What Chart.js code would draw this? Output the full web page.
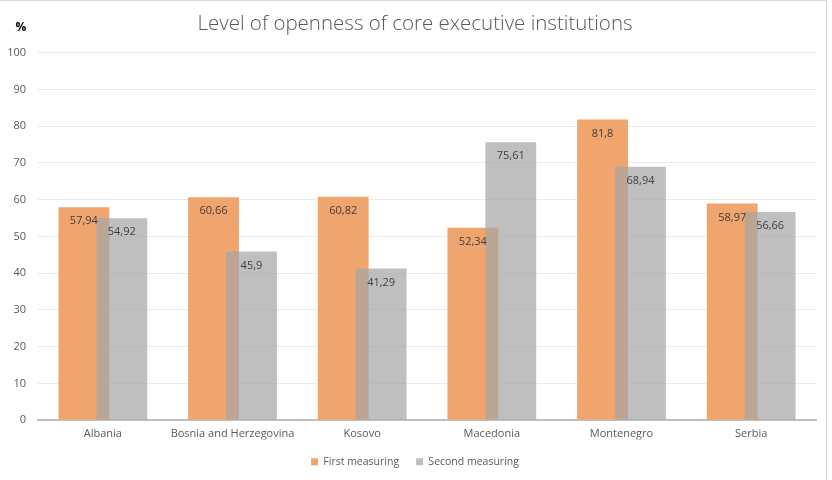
<!DOCTYPE html>
<html>
<head>
<meta charset="utf-8">
<script src="https://cdn.jsdelivr.net/npm/chart.js@4.4.1/dist/chart.umd.min.js"></script>
<style>
    html, body { margin: 0; padding: 0; background: #fff; }
    #wrap { width: 832px; height: 480px; }
</style>
</head>
<body>
<div id="wrap"><canvas id="barChart"></canvas></div>
<script>
const categories = ['Albania', 'Bosnia and Herzegovina', 'Kosovo', 'Macedonia', 'Montenegro', 'Serbia'];
const firstMeasuring = [57.94, 60.66, 60.82, 52.34, 81.8, 58.97];
const secondMeasuring = [54.92, 45.9, 41.29, 75.61, 68.94, 56.66];
const yMin = 0, yMax = 100, yStep = 10;

const fontFamily = '"Open Sans", sans-serif';

// grey bars sit on top of the orange ones (Excel overlap), then value labels and the "%" unit
const overlapAndLabels = {
    id: 'overlapAndLabels',
    beforeDraw(chart) {
        let ctx = chart.ctx;
        ctx.save();
        ctx.strokeStyle = '#d9d9d9';
        ctx.lineWidth = 1;
        ctx.beginPath();
        ctx.moveTo(0, 0.5);
        ctx.lineTo(826.5, 0.5);
        ctx.lineTo(826.5, 480);
        ctx.stroke();
        ctx.restore();
    },
    beforeDatasetDraw(chart, args) {
        if (args.index === 1) return false;
    },
    afterDatasetsDraw(chart) {
        chart.getDatasetMeta(1).controller.draw();

        let ctx = chart.ctx;
        ctx.save();
        ctx.font = '11px ' + fontFamily;
        ctx.fillStyle = '#404040';
        ctx.textAlign = 'center';
        ctx.textBaseline = 'middle';
        chart.data.datasets.forEach((ds, i) => {
            chart.getDatasetMeta(i).data.forEach((bar, j) => {
                ctx.fillText(String(ds.data[j]).replace('.', ','), bar.x, bar.y + 14);
            });
        });
        ctx.font = 'bold 12px ' + fontFamily;
        ctx.fillStyle = '#000';
        ctx.fillText('%', chart.chartArea.left - 17, chart.chartArea.top - 25);
        ctx.restore();
    }
};

let ctx = document.getElementById('barChart').getContext('2d');

new Chart(ctx, {
    type: 'bar',
    data: {
        labels: categories,
        datasets: [
            {
                label: 'First measuring',
                data: firstMeasuring,
                backgroundColor: 'rgb(240,164,110)'
            },
            {
                label: 'Second measuring',
                data: secondMeasuring,
                backgroundColor: 'rgba(166,166,166,0.72)'
            }
        ]
    },
    options: {
        responsive: true,
        maintainAspectRatio: false,
        animation: false,
        datasets: {
            bar: { categoryPercentage: 0.585, barPercentage: 1.34 }
        },
        layout: { padding: { left: 0, right: 2, top: 0, bottom: 3 } },
        plugins: {
            title: {
                display: true,
                text: 'Level of openness of core executive institutions',
                color: '#595959',
                font: { family: fontFamily, size: 20.5, weight: '300' },
                padding: { top: 12, bottom: 16 }
            },
            legend: {
                position: 'bottom',
                labels: {
                    boxWidth: 7,
                    boxHeight: 7,
                    padding: 17,
                    color: '#595959',
                    font: { family: fontFamily, size: 10.5 }
                }
            },
            tooltip: { enabled: false }
        },
        scales: {
            x: {
                grid: { display: false },
                border: { color: '#bfbfbf', width: 2 },
                ticks: {
                    color: '#595959',
                    font: { family: fontFamily, size: 11 },
                    padding: -1,
                    minRotation: 0,
                    maxRotation: 0,
                    autoSkip: false
                }
            },
            y: {
                min: yMin,
                max: yMax,
                ticks: {
                    stepSize: yStep,
                    color: '#595959',
                    padding: 12,
                    font: { family: fontFamily, size: 11 }
                },
                grid: { color: '#ebebeb', drawTicks: false },
                border: { display: false },
                afterFit(scale) { scale.width = 38; }
            },
            // empty right-hand spacer so the plot ends where the reference does
            yRight: {
                position: 'right',
                grid: { display: false },
                border: { display: false },
                ticks: { display: false },
                afterFit(scale) { scale.width = 14; }
            }
        }
    },
    plugins: [overlapAndLabels]
});
</script>
</body>
</html>
